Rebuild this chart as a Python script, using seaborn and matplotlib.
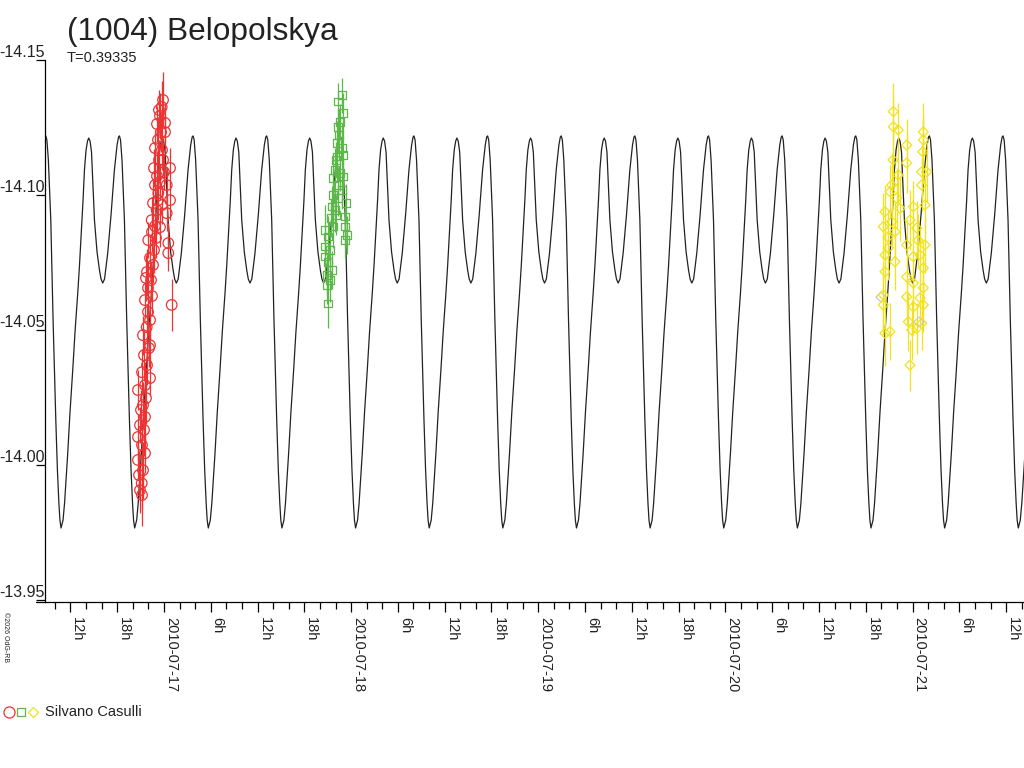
import numpy as np
import pandas as pd
import matplotlib
matplotlib.use("Agg")
import matplotlib.pyplot as plt
import matplotlib.dates as mdates
from matplotlib.lines import Line2D
import seaborn as sns

# CONFIG
sns.set_theme(style="white")
plt.rcParams["font.family"] = ["Liberation Sans", "DejaVu Sans"]

BASE = pd.Timestamp("2010-07-17 00:00")
PERIOD_D = 0.39335

# MODEL CURVE: one period (phase from deep minimum, mag)
model_phase = [0.000, 0.027, 0.048, 0.068, 0.091, 0.122, 0.159, 0.190, 0.227, 0.251,
               0.272, 0.299, 0.318, 0.340, 0.360, 0.376, 0.394, 0.414, 0.454, 0.489,
               0.522, 0.543, 0.566, 0.591, 0.634, 0.679, 0.725, 0.761, 0.781, 0.793,
               0.808, 0.828, 0.861, 0.892, 0.929, 0.951, 0.971, 0.985]
model_mag = [-13.9767, -13.9796, -13.9859, -13.9944, -14.0044, -14.0196, -14.0352, -14.0493, -14.0637, -14.0741,
             -14.0844, -14.0981, -14.1093, -14.1167, -14.1200, -14.1211, -14.1200, -14.1159, -14.0907, -14.0789,
             -14.0722, -14.0689, -14.0674, -14.0689, -14.0785, -14.0926, -14.1093, -14.1185, -14.1215, -14.1219,
             -14.1204, -14.1130, -14.0907, -14.0537, -14.0167, -13.9981, -13.9859, -13.9796]
model_epoch_h = 5.692  # hours after 2010-07-17 00:00 of a deep minimum

# OBSERVATIONS (hours after 2010-07-17 00:00 UT, magnitude, error)
red_h = [-3.064, -2.846, -3.321, -2.679, -2.423, -3.321, -2.808, -2.423, -3.064, -2.679,
         -3.321, -2.295, -1.782, -2.808, -2.167, -2.551, -1.910, -2.205, -2.679, -1.782,
         -2.038, -2.423, -1.526, -2.038, -1.654, -2.167, -1.397, -1.782, -1.269, -2.000,
         -1.526, -1.564, -1.141, -0.500, -0.923, -1.397, -0.718, -1.141, -0.885, -1.269,
         -0.628, -1.141, -0.756, -0.372, -0.885, -0.500, -0.282, -0.115, -0.628, 0.141,
         0.141, -0.244, 0.013, 0.782, 0.359, 0.782, 0.359, 0.564, 0.564, 1.000,
         -0.244, -0.500, -1.013, -2.295, -1.782, -2.423, -2.936, -2.551, -3.192, -2.808,
         -0.115, -0.756]
red_mag = [-13.9907, -13.9933, -14.0019, -13.9981, -14.0044, -14.0104, -14.0074, -14.0178, -14.0148, -14.0222,
           -14.0278, -14.0248, -14.0322, -14.0344, -14.0370, -14.0407, -14.0433, -14.0511, -14.0481, -14.0537,
           -14.0567, -14.0611, -14.0626, -14.0656, -14.0685, -14.0715, -14.0741, -14.0767, -14.0796, -14.0833,
           -14.0863, -14.0907, -14.0885, -14.0881, -14.0944, -14.0970, -14.1007, -14.1037, -14.1070, -14.1100,
           -14.1130, -14.1174, -14.1204, -14.1233, -14.1263, -14.1293, -14.1326, -14.1352, -14.1315, -14.1267,
           -14.1233, -14.1167, -14.1085, -14.1100, -14.1037, -14.0981, -14.0933, -14.0822, -14.0785, -14.0593,
           -14.0963, -14.1048, -14.0841, -14.0693, -14.0444, -14.0296, -14.0204, -14.0130, -13.9963, -13.9889,
           -14.1130, -14.0981]
red_err = [0.0085, 0.0095, 0.0070, 0.0105, 0.0075, 0.0085, 0.0070, 0.0095, 0.0068, 0.0085,
           0.0075, 0.0095, 0.0068, 0.0085, 0.0075, 0.0095, 0.0068, 0.0085, 0.0072, 0.0075,
           0.0085, 0.0068, 0.0075, 0.0095, 0.0072, 0.0085, 0.0068, 0.0075, 0.0085, 0.0068,
           0.0075, 0.0085, 0.0068, 0.0075, 0.0072, 0.0085, 0.0068, 0.0075, 0.0085, 0.0072,
           0.0075, 0.0068, 0.0085, 0.0075, 0.0068, 0.0085, 0.0095, 0.0105, 0.0075, 0.0072,
           0.0068, 0.0075, 0.0068, 0.0075, 0.0068, 0.0072, 0.0068, 0.0075, 0.0068, 0.0095,
           0.0072, 0.0068, 0.0075, 0.0085, 0.0075, 0.0085, 0.0075, 0.0095, 0.0085, 0.0115,
           0.0058, 0.0075]

green_h = [22.795, 22.359, 23.000, 22.577, 22.359, 22.231, 22.795, 23.000, 22.154, 21.936,
           22.577, 23.000, 21.718, 22.359, 22.795, 21.718, 22.359, 23.346, 21.513, 21.936,
           21.385, 23.218, 23.218, 23.436, 23.218, 21.718, 20.654, 21.077, 20.654, 21.295,
           20.654, 21.077, 21.513, 20.872, 21.295, 20.872, 21.077, 22.064, 22.449, 22.064]
green_mag = [-14.1370, -14.1346, -14.1304, -14.1271, -14.1253, -14.1193, -14.1174, -14.1148, -14.1142, -14.1093,
             -14.1081, -14.1068, -14.1063, -14.1037, -14.1019, -14.1000, -14.0989, -14.0970, -14.0957, -14.0944,
             -14.0915, -14.0920, -14.0883, -14.0852, -14.0833, -14.0883, -14.0870, -14.0846, -14.0809, -14.0796,
             -14.0772, -14.0753, -14.0722, -14.0704, -14.0685, -14.0667, -14.0599, -14.1130, -14.1222, -14.0926]
green_err = [0.0065, 0.0070, 0.0075, 0.0065, 0.0070, 0.0080, 0.0065, 0.0070, 0.0075, 0.0080,
             0.0065, 0.0070, 0.0075, 0.0065, 0.0070, 0.0080, 0.0065, 0.0070, 0.0075, 0.0080,
             0.0070, 0.0065, 0.0075, 0.0070, 0.0065, 0.0080, 0.0092, 0.0075, 0.0080, 0.0070,
             0.0075, 0.0080, 0.0070, 0.0075, 0.0080, 0.0070, 0.0092, 0.0065, 0.0070, 0.0075]

yellow_h = [93.513, 93.513, 94.154, 95.231, 95.231, 97.359, 97.359, 97.282, 97.154, 97.795,
            97.154, 94.154, 93.308, 93.090, 93.949, 96.077, 97.577, 94.372, 92.449, 95.654,
            93.308, 92.231, 96.513, 93.731, 95.231, 97.577, 92.872, 92.449, 96.077, 96.936,
            93.731, 92.449, 97.359, 95.231, 96.077, 97.359, 92.231, 95.231, 92.231, 96.936,
            96.077, 97.359, 95.436, 92.449, 93.090, 96.513, 97.154, 95.872, 95.654, 92.834,
            93.474, 96.679]
yellow_mag = [-14.1309, -14.1253, -14.1241, -14.1185, -14.1119, -14.1234, -14.1204, -14.1160, -14.1086, -14.1086,
              -14.1037, -14.1074, -14.1037, -14.1012, -14.0989, -14.0957, -14.0963, -14.0951, -14.0938, -14.0907,
              -14.0901, -14.0883, -14.0878, -14.0864, -14.0815, -14.0815, -14.0804, -14.0778, -14.0772, -14.0778,
              -14.0753, -14.0716, -14.0730, -14.0697, -14.0674, -14.0656, -14.0630, -14.0623, -14.0593, -14.0619,
              -14.0586, -14.0593, -14.0531, -14.0488, -14.0494, -14.0506, -14.0525, -14.0500, -14.0370, -14.0844,
              -14.1130, -14.0833]
yellow_err = [0.0105, 0.0120, 0.0100, 0.0095, 0.0110, 0.0105, 0.0095, 0.0120, 0.0100, 0.0110,
              0.0095, 0.0105, 0.0120, 0.0100, 0.0110, 0.0095, 0.0105, 0.0120, 0.0100, 0.0110,
              0.0095, 0.0125, 0.0100, 0.0110, 0.0095, 0.0105, 0.0120, 0.0100, 0.0110, 0.0095,
              0.0105, 0.0120, 0.0100, 0.0110, 0.0095, 0.0105, 0.0125, 0.0100, 0.0110, 0.0095,
              0.0105, 0.0100, 0.0110, 0.0120, 0.0105, 0.0095, 0.0100, 0.0110, 0.0095, 0.0105,
              0.0100, 0.0095]

gray_h = [91.936, 96.808]
gray_mag = [-14.0622, -14.0530]

RED, GREEN, YELLOW, GRAY = "#ee3333", "#5cb848", "#f2e21a", "#c8c8c8"

def to_time(hours):
    return BASE + pd.to_timedelta(np.atleast_1d(np.asarray(hours, dtype=float)), unit="h")

# tile the one-period profile over the whole time range
period_h = PERIOD_D * 24
curve_h, curve_mag = [], []
for k in range(-3, 13):
    for ph, m in zip(model_phase, model_mag):
        curve_h.append(model_epoch_h + (k + ph) * period_h)
        curve_mag.append(m)
curve = pd.DataFrame({"time": to_time(curve_h), "mag": curve_mag})

# FIGURE
fig = plt.figure(figsize=(10.24, 7.68), dpi=100)
ax = fig.add_axes([45 / 1024, 166 / 768, 979 / 1024, 542 / 768])

sns.lineplot(data=curve, x="time", y="mag", ax=ax, color="#222222", lw=0.9,
             estimator=None, sort=False, zorder=2)

series = [
    (gray_h, gray_mag, None, GRAY, "D", 26),
    (red_h, red_mag, red_err, RED, "o", 58),
    (green_h, green_mag, green_err, GREEN, "s", 30),
    (yellow_h, yellow_mag, yellow_err, YELLOW, "D", 26),
]
for hrs, mags, errs, col, mk, size in series:
    t = to_time(hrs)
    if errs is not None:
        ax.errorbar(t, mags, yerr=errs, fmt="none", ecolor=col, elinewidth=0.9,
                    capsize=0, zorder=3)
    sns.scatterplot(x=t, y=mags, ax=ax, marker=mk, s=size, facecolor="none",
                    edgecolor=col, linewidth=0.9, zorder=4)

# AXES
ax.set_xlim(to_time(-15.244)[0], to_time(110.27)[0])
ax.set_ylim(-13.9493, -14.15)
ax.set_xlabel("")
ax.set_ylabel("")

for side in ["top", "right"]:
    ax.spines[side].set_visible(False)
for side in ["left", "bottom"]:
    ax.spines[side].set_color("black")
    ax.spines[side].set_linewidth(0.9)
ax.plot([-9 / 979, 0], [0, 0], transform=ax.transAxes, color="black",
        lw=0.9, clip_on=False)

ax.set_yticks([-14.15, -14.10, -14.05, -14.00, -13.95])
ax.set_yticklabels(["-14.15", "-14.10", "-14.05", "-14.00", "-13.95"])
ax.tick_params(axis="y", direction="out", length=6.5, width=0.9, color="black",
               pad=-6.5, labelsize=11.5, labelcolor="#222222", left=True)
for lab in ax.get_yticklabels():
    lab.set_verticalalignment("bottom")

ax.xaxis.set_major_locator(mdates.HourLocator(byhour=range(0, 24, 6)))
ax.xaxis.set_minor_locator(mdates.HourLocator(byhour=range(0, 24, 2)))

def fmt_time(x, pos=None):
    d = mdates.num2date(x)
    if d.hour == 0:
        return d.strftime("%Y-%m-%d")
    return f"{d.hour}h"

ax.xaxis.set_major_formatter(plt.FuncFormatter(fmt_time))
ax.tick_params(axis="x", which="major", direction="out", length=7.5, width=0.9,
               color="black", pad=3, labelsize=10.5, labelcolor="#222222", bottom=True)
ax.tick_params(axis="x", which="minor", direction="out", length=5, width=0.9,
               color="black", bottom=True)
for lab in ax.get_xticklabels():
    lab.set_rotation(-90)
    lab.set_horizontalalignment("left")
    lab.set_verticalalignment("top")
ax.grid(False)

# TEXT
fig.text(67 / 1024, 1 - 32 / 768, "(1004) Belopolskya", fontsize=22.8,
         color="#222222", va="center", ha="left")
fig.text(67 / 1024, 1 - 58 / 768, "T=0.39335", fontsize=10.5,
         color="#222222", va="center", ha="left")
fig.text(5 / 1024, 1 - 612 / 768, "\u00a92026 OdG-RB", fontsize=5, rotation=-90,
         color="#222222", va="top", ha="center")

# LEGEND
ly = 1 - 712 / 768
for lx, mk, col, ms in [(9, "o", RED, 8), (21, "s", GREEN, 5.5), (33, "D", YELLOW, 5)]:
    fig.add_artist(Line2D([lx / 1024], [ly], transform=fig.transFigure, marker=mk,
                          markersize=ms, markerfacecolor="none", markeredgecolor=col,
                          markeredgewidth=0.9, linestyle="none"))
fig.text(45 / 1024, ly, "Silvano Casulli", fontsize=10.5, color="#222222",
         va="center", ha="left")

fig.savefig("out.png", dpi=100, facecolor="white")
